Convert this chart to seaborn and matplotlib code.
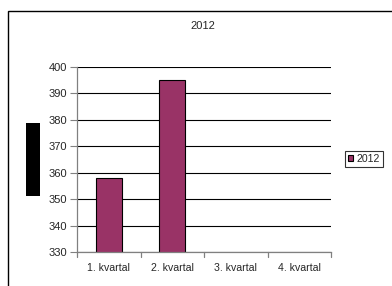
import matplotlib
matplotlib.use("Agg")
import matplotlib.pyplot as plt
import seaborn as sns
import pandas as pd
from matplotlib.patches import Rectangle

categories = ["1. kvartal", "2. kvartal", "3. kvartal", "4. kvartal"]
values_2012 = [358, 395, None, None]
series_name = "2012"
yticks = [330, 340, 350, 360, 370, 380, 390, 400]

df = pd.DataFrame({"kvartal": categories, "verdi": values_2012, "serie": series_name})

sns.set_theme(style="white")
plt.rcParams['font.family'] = ['Liberation Sans', 'DejaVu Sans']

W, H = 392, 286
fig = plt.figure(figsize=(W / 100, H / 100), dpi=100)
ax = fig.add_axes([77 / W, 1 - 252 / H, (331 - 77) / W, (252 - 67) / H])

sns.barplot(data=df, x="kvartal", y="verdi", hue="serie", palette=["#993366"],
            saturation=1, width=0.41, edgecolor="black", linewidth=0.8, ax=ax,
            legend=True)

ax.set_ylim(330, 400)
ax.set_xlim(-0.5, 3.5)
ax.set_yticks(yticks)
ax.set_yticklabels([str(v) for v in yticks], fontsize=8)
ax.yaxis.grid(True, color="black", linewidth=0.8)
ax.set_axisbelow(True)
ax.set_xlabel("")
ax.set_ylabel("")
ax.set_xticks([0, 1, 2, 3])
ax.set_xticklabels(categories, fontsize=7.6)
ax.tick_params(axis="x", length=0, pad=8)
ax.tick_params(axis="y", length=5, width=0.8, color="#808080", left=True, pad=2)
for s in ["top", "right"]:
    ax.spines[s].set_visible(False)
for s in ["left", "bottom"]:
    ax.spines[s].set_color("#808080")
    ax.spines[s].set_linewidth(0.9)
# category boundary ticks on x axis
for b in [0.5, 1.5, 2.5, 3.5, -0.5]:
    ax.plot([b, b], [0, -0.025], transform=ax.get_xaxis_transform(), color="#808080",
            linewidth=0.9, clip_on=False)

leg = ax.legend(loc="center left", bbox_to_anchor=(345 / W, 1 - 159 / H),
                bbox_transform=fig.transFigure, fontsize=7.6, frameon=True,
                fancybox=False, handlelength=0.5, handleheight=0.5, handletextpad=0.3,
                borderpad=0.3, borderaxespad=0)
leg.get_frame().set_edgecolor("black")
leg.get_frame().set_linewidth(0.8)

fig.text(203 / W, 1 - 26 / H, "2012", ha="center", va="center", fontsize=8)

# outer chart border
fig.patches.append(Rectangle((8 / W, -0.2), 1.2, 1.2 - 11 / H,
                             transform=fig.transFigure, fill=False,
                             edgecolor="black", linewidth=1.0))
# black block at left
fig.patches.append(Rectangle((26 / W, 1 - 196 / H), 14 / W, 73 / H,
                             transform=fig.transFigure, facecolor="black",
                             edgecolor="none"))

fig.savefig("out.png", dpi=100)
